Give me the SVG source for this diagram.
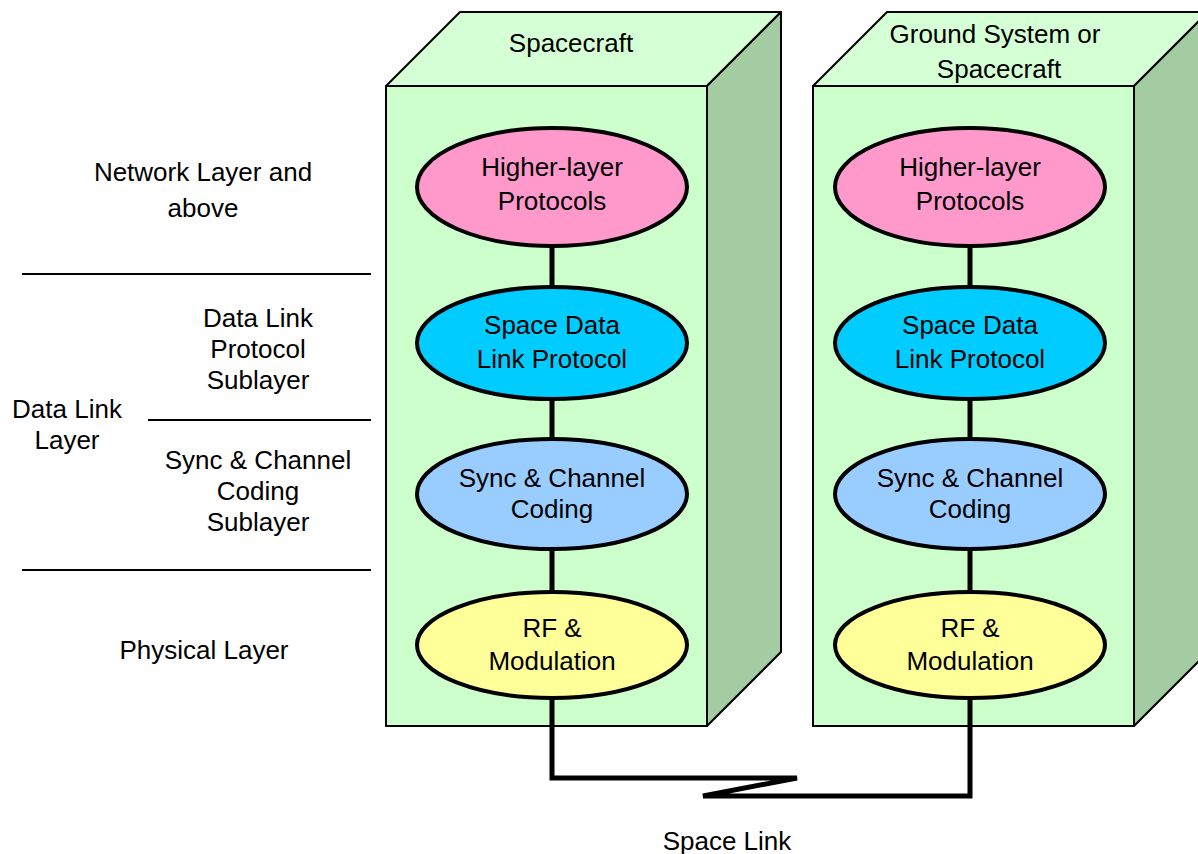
<svg xmlns="http://www.w3.org/2000/svg" width="1198" height="854" viewBox="0 0 1198 854">
<style>
text{font-family:"Liberation Sans",Arial,sans-serif;font-size:26px;fill:#000;text-anchor:middle}
.front{fill:#CCFFCC;stroke:#000;stroke-width:2}
.top{fill:#D5FFD5;stroke:#000;stroke-width:2;stroke-linejoin:round}
.side{fill:#A3CCA3;stroke:#000;stroke-width:2;stroke-linejoin:round}
.ell{stroke:#000;stroke-width:4}
.conn{fill:none;stroke:#000;stroke-width:5}
.rule{stroke:#000;stroke-width:2}
</style>
<rect width="1198" height="854" fill="#fff"/>
<g id="box-left">
<polygon class="top" points="386,86 460,12 781,12 707,86"/>
<polygon class="side" points="707,86 781,12 781,652 707,726"/>
<rect class="front" x="386" y="86" width="321" height="640"/>
<text x="571" y="52">Spacecraft</text>
</g>
<g id="box-right">
<polygon class="top" points="813,86 887,12 1208,12 1134,86"/>
<polygon class="side" points="1134,86 1208,12 1208,652 1134,726"/>
<rect class="front" x="813" y="86" width="321" height="640"/>
<text x="995" y="43">Ground System or</text>
<text x="999" y="78">Spacecraft</text>
</g>
<g id="connectors">
<line class="conn" x1="552" y1="247" x2="552" y2="287"/>
<line class="conn" x1="552" y1="399" x2="552" y2="439"/>
<line class="conn" x1="552" y1="549" x2="552" y2="592"/>
<line class="conn" x1="970" y1="247" x2="970" y2="287"/>
<line class="conn" x1="970" y1="399" x2="970" y2="439"/>
<line class="conn" x1="970" y1="549" x2="970" y2="592"/>
<polyline class="conn" points="552,697 552,778 797,778 703,796 970,796 970,697"/>
</g>
<g id="left-higher">
<ellipse class="ell" cx="552" cy="187" rx="135" ry="59" fill="#FF99CC"/>
<text x="552" y="176">Higher-layer</text>
<text x="552" y="210">Protocols</text>
</g>
<g id="left-sdlp">
<ellipse class="ell" cx="552" cy="343" rx="135" ry="56" fill="#00CCFF"/>
<text x="552" y="334">Space Data</text>
<text x="552" y="368">Link Protocol</text>
</g>
<g id="left-sync">
<ellipse class="ell" cx="552" cy="494" rx="135" ry="55" fill="#99CCFF"/>
<text x="552" y="487">Sync &amp; Channel</text>
<text x="552" y="518">Coding</text>
</g>
<g id="left-rf">
<ellipse class="ell" cx="552" cy="645" rx="135" ry="53" fill="#FFFF99"/>
<text x="552" y="637">RF &amp;</text>
<text x="552" y="670">Modulation</text>
</g>
<g id="right-higher">
<ellipse class="ell" cx="970" cy="187" rx="135" ry="59" fill="#FF99CC"/>
<text x="970" y="176">Higher-layer</text>
<text x="970" y="210">Protocols</text>
</g>
<g id="right-sdlp">
<ellipse class="ell" cx="970" cy="343" rx="135" ry="56" fill="#00CCFF"/>
<text x="970" y="334">Space Data</text>
<text x="970" y="368">Link Protocol</text>
</g>
<g id="right-sync">
<ellipse class="ell" cx="970" cy="494" rx="135" ry="55" fill="#99CCFF"/>
<text x="970" y="487">Sync &amp; Channel</text>
<text x="970" y="518">Coding</text>
</g>
<g id="right-rf">
<ellipse class="ell" cx="970" cy="645" rx="135" ry="53" fill="#FFFF99"/>
<text x="970" y="637">RF &amp;</text>
<text x="970" y="670">Modulation</text>
</g>
<g id="layer-labels">
<line class="rule" x1="22" y1="274" x2="371" y2="274"/>
<line class="rule" x1="148" y1="420" x2="371" y2="420"/>
<line class="rule" x1="22" y1="570" x2="371" y2="570"/>
<text x="203" y="181">Network Layer and</text>
<text x="203" y="217">above</text>
<text x="258" y="327">Data Link</text>
<text x="258" y="358">Protocol</text>
<text x="258" y="389">Sublayer</text>
<text x="67" y="418">Data Link</text>
<text x="67" y="449">Layer</text>
<text x="258" y="469">Sync &amp; Channel</text>
<text x="258" y="500">Coding</text>
<text x="258" y="531">Sublayer</text>
<text x="204" y="659">Physical Layer</text>
<text x="727" y="850">Space Link</text>
</g>
</svg>
